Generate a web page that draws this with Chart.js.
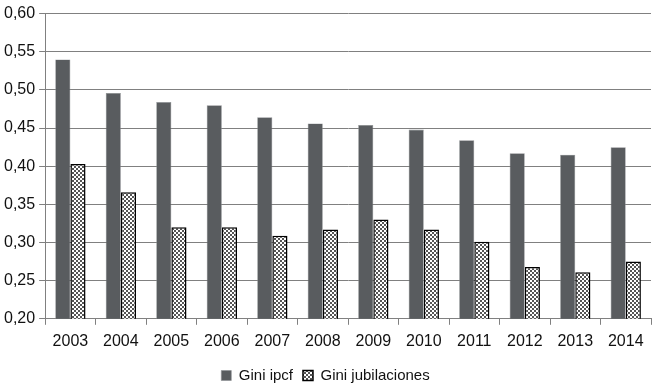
<!DOCTYPE html>
<html>
<head>
<meta charset="utf-8">
<script src="https://cdn.jsdelivr.net/npm/chart.js@4"></script>
<style>
  html, body { margin: 0; padding: 0; background: #fff; }
  #wrap { width: 654px; height: 384px; }
</style>
</head>
<body>
<div id="wrap"><canvas id="giniChart" width="654" height="384"></canvas></div>
<script>
const years = ["2003","2004","2005","2006","2007","2008","2009","2010","2011","2012","2013","2014"];
const giniIpcf = [0.540, 0.496, 0.484, 0.480, 0.464, 0.456, 0.454, 0.448, 0.434, 0.417, 0.415, 0.425];
const giniJubilaciones = [0.403, 0.366, 0.320, 0.320, 0.309, 0.317, 0.330, 0.317, 0.301, 0.268, 0.261, 0.275];

// checker pattern for the second series
const makeChecker = () => {
    const c = document.createElement("canvas");
    c.width = 4; c.height = 4;
    const g = c.getContext("2d");
    g.fillStyle = "#ffffff";
    g.fillRect(0, 0, 4, 4);
    g.fillStyle = "#555555";
    g.fillRect(0, 0, 2, 2);
    g.fillRect(2, 2, 2, 2);
    return g.createPattern(c, "repeat");
};
const checker = makeChecker();

const fontFam = "'Liberation Sans', Arial, sans-serif";
const ctx = document.getElementById("giniChart");
const myChart = new Chart(ctx, {
    type: "bar",
    data: {
        labels: years,
        datasets: [{
            label: "Gini ipcf",
            data: giniIpcf,
            backgroundColor: "#595c5f",
            borderColor: "#8c8f92",
            borderWidth: 0.6,
            categoryPercentage: 0.6,
            barPercentage: 1.0
        }, {
            label: "Gini jubilaciones",
            data: giniJubilaciones,
            backgroundColor: checker,
            borderColor: "#000000",
            borderWidth: 1.5,
            borderSkipped: "bottom",
            categoryPercentage: 0.6,
            barPercentage: 1.0
        }]
    },
    options: {
        responsive: false,
        animation: false,
        devicePixelRatio: 1,
        layout: { padding: { left: 0, right: 3, top: 0, bottom: -9 } },
        plugins: {
            tooltip: { enabled: false },
            legend: {
                position: "bottom",
                labels: {
                    boxWidth: 10,
                    boxHeight: 10,
                    padding: 10,
                    color: "#111",
                    font: { family: fontFam, size: 15 }
                }
            }
        },
        scales: {
            x: {
                grid: {
                    display: true,
                    offset: true,
                    drawOnChartArea: false,
                    drawTicks: true,
                    tickLength: 6,
                    color: "#808080"
                },
                border: { color: "#808080", width: 1 },
                ticks: {
                    color: "#111",
                    padding: 7,
                    font: { family: fontFam, size: 16 }
                }
            },
            y: {
                min: 0.2,
                max: 0.6,
                ticks: {
                    stepSize: 0.05,
                    color: "#111",
                    padding: 4,
                    font: { family: fontFam, size: 16 },
                    callback: v => v.toFixed(2).replace(".", ",")
                },
                grid: {
                    color: "#808080",
                    lineWidth: 1,
                    tickLength: 6
                },
                border: { color: "#808080", width: 1 }
            }
        }
    }
});
</script>
</body>
</html>
